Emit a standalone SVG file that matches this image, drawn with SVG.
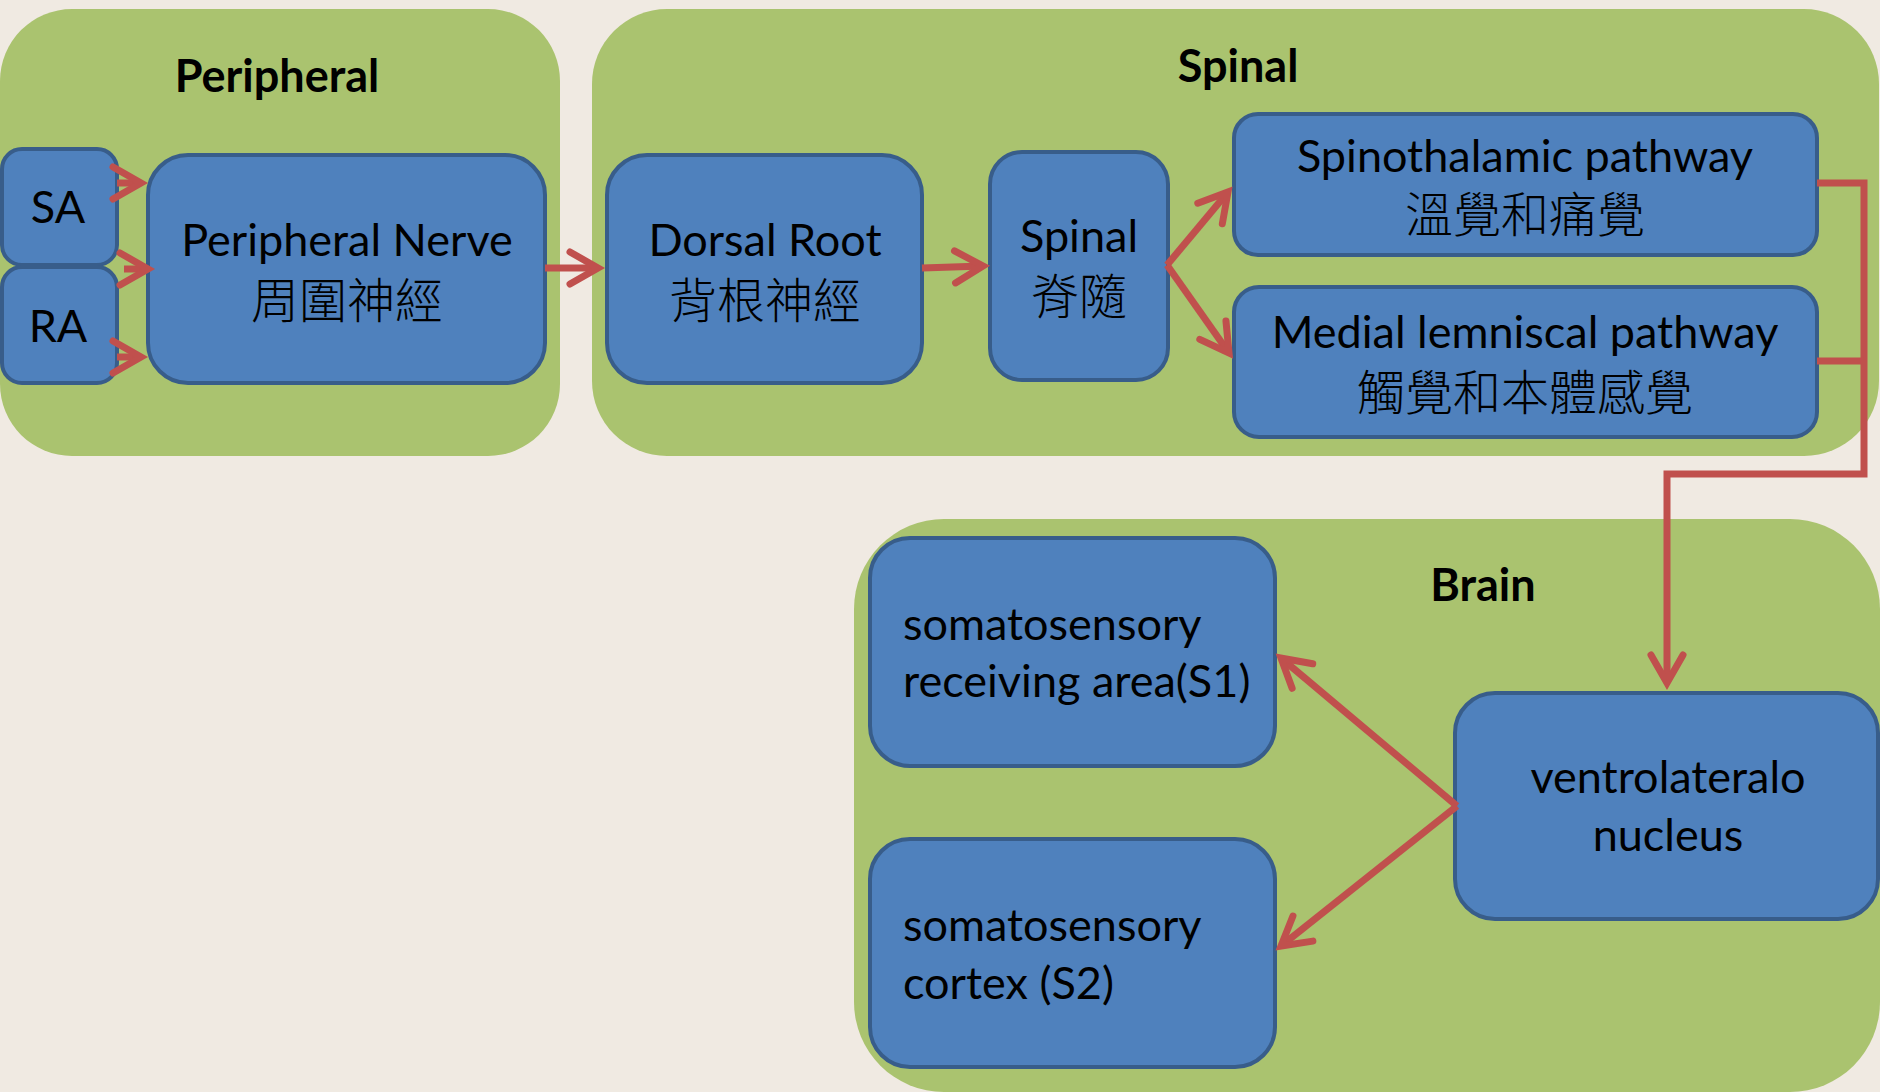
<svg xmlns="http://www.w3.org/2000/svg" width="1880" height="1092" viewBox="0 0 1880 1092">
<style>
.grp{fill:#AAC36F;stroke:none}
.node{fill:#4F81BD;stroke:#385D8A;stroke-width:4}
.t{font-family:Lato,"Open Sans","Liberation Sans",sans-serif;font-size:45px;fill:#000;text-anchor:middle}
.tl{text-anchor:start}
.title{font-family:Lato,"Open Sans","Liberation Sans",sans-serif;font-size:45px;font-weight:bold;fill:#000;text-anchor:middle}
.cjk{font-family:"Noto Sans CJK TC","Noto Sans CJK SC",sans-serif;font-size:48px;fill:#000;text-anchor:middle;font-weight:300}
.c{fill:none;stroke:#C0504D;stroke-width:7;stroke-linejoin:miter}
.ca{marker-end:url(#ah)}
</style>
<defs>
<marker id="ah" markerUnits="userSpaceOnUse" viewBox="-40 -25 50 50" markerWidth="50" markerHeight="50" refX="0" refY="0" orient="auto" overflow="visible">
<path d="M-28,-16 L0,0 L-28,16" fill="none" stroke="#C0504D" stroke-width="7" stroke-linecap="round" stroke-linejoin="miter"/>
</marker>
</defs>
<rect width="1880" height="1092" fill="#F0EAE2"/>
<g id="group-peripheral">
<rect class="grp" x="0" y="9" width="560" height="447" rx="72"/>
<text class="title" x="277" y="92">Peripheral</text>
</g>
<g id="group-spinal">
<rect class="grp" x="592" y="9" width="1287" height="447" rx="75"/>
<text class="title" x="1238" y="82">Spinal</text>
</g>
<g id="group-brain">
<rect class="grp" x="854" y="519" width="1026" height="573" rx="90"/>
<text class="title" x="1483" y="601">Brain</text>
</g>
<g id="node-sa">
<rect class="node" x="2" y="149" width="115" height="116" rx="20"/>
<text class="t" x="58" y="223">SA</text>
</g>
<g id="node-ra">
<rect class="node" x="2" y="267" width="115" height="116" rx="20"/>
<text class="t" x="58" y="342">RA</text>
</g>
<g id="node-peripheral-nerve">
<rect class="node" x="148" y="155" width="397" height="228" rx="40"/>
<text class="t" x="347" y="256">Peripheral Nerve</text>
<text class="cjk" x="347" y="318">周圍神經</text>
</g>
<g id="node-dorsal-root">
<rect class="node" x="607" y="155" width="315" height="228" rx="40"/>
<text class="t" x="765" y="256">Dorsal Root</text>
<text class="cjk" x="765" y="318">背根神經</text>
</g>
<g id="node-spinal">
<rect class="node" x="990" y="152" width="178" height="228" rx="32"/>
<text class="t" x="1079" y="252">Spinal</text>
<text class="cjk" x="1079" y="314">脊隨</text>
</g>
<g id="node-spinothalamic">
<rect class="node" x="1234" y="114" width="583" height="141" rx="24"/>
<text class="t" x="1525" y="172">Spinothalamic pathway</text>
<text class="cjk" x="1525" y="232">溫覺和痛覺</text>
</g>
<g id="node-medial-lemniscal">
<rect class="node" x="1234" y="287" width="583" height="150" rx="25"/>
<text class="t" x="1525" y="348">Medial lemniscal pathway</text>
<text class="cjk" x="1525" y="410">觸覺和本體感覺</text>
</g>
<g id="node-s1">
<rect class="node" x="870" y="538" width="405" height="228" rx="40"/>
<text class="t tl" x="903" y="640">somatosensory</text>
<text class="t tl" x="903" y="697">receiving area(S1)</text>
</g>
<g id="node-s2">
<rect class="node" x="870" y="839" width="405" height="228" rx="40"/>
<text class="t tl" x="903" y="941">somatosensory</text>
<text class="t tl" x="903" y="999">cortex (S2)</text>
</g>
<g id="node-ventrolateral">
<rect class="node" x="1455" y="693" width="423" height="226" rx="40"/>
<text class="t" x="1668" y="793">ventrolateralo</text>
<text class="t" x="1668" y="851">nucleus</text>
</g>
<g id="connectors">
<path class="c ca" d="M117,183 L141,183"/>
<path class="c ca" d="M124,269 L148,269"/>
<path class="c ca" d="M117,357 L141,357"/>
<path class="c ca" d="M545,268 L598,268"/>
<path class="c ca" d="M922,268 L983,266"/>
<path class="c ca" d="M1167,265 L1228,192"/>
<path class="c ca" d="M1167,265 L1229,353"/>
<path class="c ca" d="M1817,183 H1864 V474 H1667 V683"/>
<path class="c" d="M1817,361 H1864"/>
<path class="c ca" d="M1457,806 L1281,658"/>
<path class="c ca" d="M1457,806 L1281,946"/>
</g>
</svg>
